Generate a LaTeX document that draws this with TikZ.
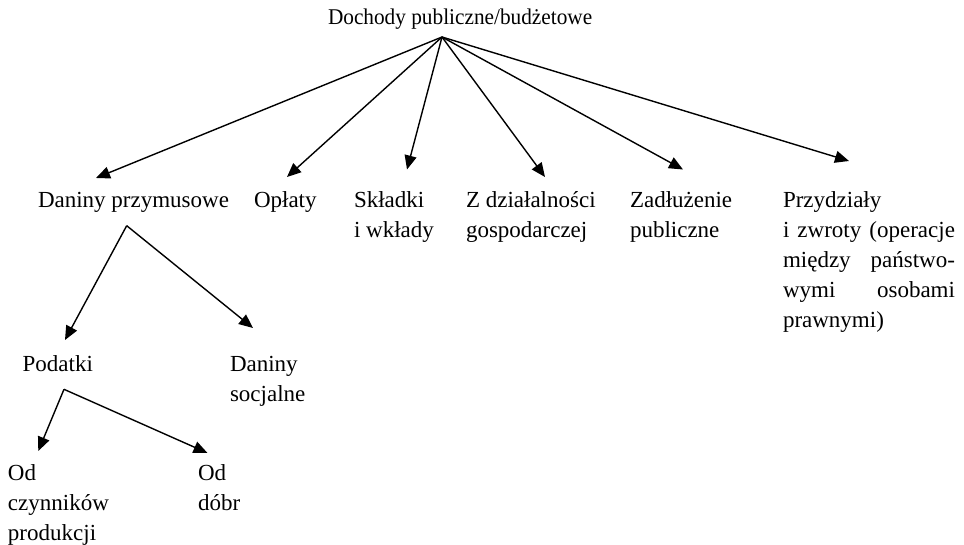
\documentclass[tikz,border=0pt]{standalone}
\usepackage{fontspec}
\usepackage{graphicx}
\setmainfont{Liberation Serif}
\usetikzlibrary{arrows.meta}
\newcommand{\stk}[1]{\vtop{\baselineskip=30pt\lineskiplimit=-100pt\halign{##\hfil\cr#1\crcr}}}
\tikzset{
  lbl/.style={anchor=base west,inner sep=0pt,outer sep=0pt,font=\fontsize{23}{30}\selectfont},
  arr/.style={line width=1.4pt,-{Triangle[length=14pt,width=12pt]}}
}
\begin{document}
\begin{tikzpicture}[x=1pt,y=-1pt]
\useasboundingbox (0,0) rectangle (964,545);
\node[lbl] (top) at (328,25) {\scalebox{0.946}[1]{\fontsize{22.5}{30}\selectfont Dochody publiczne/budżetowe}};
\node[lbl] (dp) at (38,208) {\hbox to 191pt{Daniny\hfill przymusowe}};
\node[lbl] (op) at (254,208) {Opłaty};
\node[lbl] (sk) at (354,208) {\stk{Składki\cr i wkłady}};
\node[lbl] (zd) at (466,208) {\stk{Z działalności\cr gospodarczej}};
\node[lbl] (za) at (630,208) {\stk{Zadłużenie\cr publiczne}};
\node[lbl] (pr) at (783,208) {\stk{Przydziały\cr \hbox to 172pt{i\hfill zwroty\hfill (operacje}\cr \hbox to 172pt{między\hfill państwo-}\cr \hbox to 172pt{wymi\hfill osobami}\cr prawnymi)}};
\node[lbl] (po) at (22.7,371) {Podatki};
\node[lbl] (ds) at (230,371) {\stk{Daniny\cr socjalne}};
\node[lbl] (oc) at (8,480) {\stk{Od\cr czynników\cr produkcji}};
\node[lbl] (od) at (198,480) {\stk{Od\cr dóbr}};
\coordinate (a0) at (442,37);
\coordinate (t1) at (96,178);
\coordinate (t2) at (287,177);
\coordinate (t3) at (407,169.5);
\coordinate (t4) at (545,177);
\coordinate (t5) at (683,169.5);
\coordinate (t6) at (849,161);
\coordinate (a1) at (126.7,225.7);
\coordinate (t7) at (65,340);
\coordinate (t8) at (253,328);
\coordinate (a2) at (64,389.3);
\coordinate (t9) at (38.3,451);
\coordinate (t10) at (207.5,453);
\foreach \t in {t1,t2,t3,t4,t5,t6} \draw[arr] (a0) -- (\t);
\draw[arr] (a1) -- (t7);
\draw[arr] (a1) -- (t8);
\draw[arr] (a2) -- (t9);
\draw[arr] (a2) -- (t10);
\end{tikzpicture}
\end{document}
